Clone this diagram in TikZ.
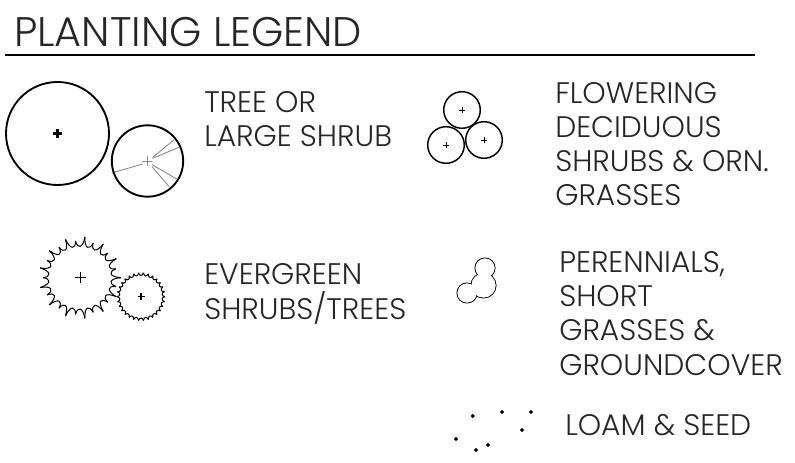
\documentclass[tikz,border=0pt]{standalone}
\usepackage{fontspec}
\setmainfont{Poppins Light}
\tikzset{
 x=0.75pt,y=-0.75pt,
 heavy/.style={draw=black,line width=1.4pt},
 thin line/.style={draw=black,line width=0.75pt},
 gray line/.style={draw=black!45,line width=0.7pt},
 label text/.style={anchor=base west,inner sep=0pt,align=left,font=\fontsize{22.3}{25.7}\selectfont,text=black!85},
}
\newcommand{\plusmark}[4]{\draw[#4] (#1-#3,#2) -- (#1+#3,#2) (#1,#2-#3) -- (#1,#2+#3);}
\newcommand{\scallop}[6]{% cx cy count tipA tipB base
 \foreach \i in {1,...,#3}{
  \pgfmathsetmacro\aa{(\i-1)*360/#3}
  \pgfmathsetmacro\ab{\i*360/#3}
  \pgfmathsetmacro\ra{mod(\i,2)==0 ? #5 : #4}
  \pgfmathsetmacro\rb{mod(\i,2)==0 ? #4 : #5}
  \pgfmathsetmacro\ca{\aa+0.12*360/#3}
  \pgfmathsetmacro\cb{\ab-0.12*360/#3}
  \draw[thin line,line join=round] ([shift={(#1,#2)}]\aa:\ra) .. controls ([shift={(#1,#2)}]\ca:#6) and ([shift={(#1,#2)}]\cb:#6) .. ([shift={(#1,#2)}]\ab:\rb);
 }}
\begin{document}
\begin{tikzpicture}
\useasboundingbox (0,0) rectangle (795,463);
% title
\node[label text,font=\fontsize{31}{32}\selectfont] (title) at (14,46.5) {PLANTING LEGEND};
\coordinate (ruleL) at (5,55); \coordinate (ruleR) at (755,55);
\draw[line width=0.8pt] (ruleL) -- (ruleR);
% tree
\draw[heavy] (57.5,133.5) circle (51.5);
\plusmark{57.5}{133.5}{4.5}{line width=1.6pt}
\foreach \xa/\ya/\xb/\yb in {152.7/157.3/174/140,152.7/158.3/179/147.3,152/164.7/176.7/179,152/166.7/169.3/186.7,142.7/164/111.7/173}
 \draw[gray line] (\xa,\ya) -- (\xb,\yb);
\plusmark{147}{161}{5}{gray line}
\draw[heavy] (147.5,161) circle (35.7);
% evergreen
\scallop{80}{277.7}{26}{41}{37}{29}
\plusmark{80}{277.7}{5.5}{line width=0.7pt}
\scallop{141}{296.7}{30}{24}{24}{20.5}
\plusmark{141}{296.7}{3.5}{line width=0.8pt}
% flowering
\foreach \cx/\cy in {462/110,484/140,446/145}{
 \draw[line width=1.1pt] (\cx,\cy) circle (18.3);
 \plusmark{\cx}{\cy}{3}{line width=0.7pt}
}
% perennials
\foreach \cx/\cy/\r in {485/268/10,467/293/10,483.5/285.5/12.5}
 \draw[line width=0.8pt] (\cx,\cy) circle (\r);
\foreach \cx/\cy/\r in {485/268/9.6,467/293/9.6,483.5/285.5/12.1}
 \fill[white] (\cx,\cy) circle (\r);
% loam
\foreach \cx/\cy in {472.7/416,502/412,531/412,522/430,456/439,476/450,488/445}
 \draw[line width=1pt] (\cx,\cy) circle (1.2);
% labels
\node[label text] (tree) at (204,147) {TREE OR\\LARGE SHRUB};
\node[label text] (flower) at (555,206) {FLOWERING\\DECIDUOUS\\SHRUBS \& ORN.\\GRASSES};
\node[label text] (evergreen) at (204,319) {EVERGREEN\\SHRUBS/TREES};
\node[label text] (peren) at (559,375) {PERENNIALS,\\SHORT\\GRASSES \&\\GROUNDCOVER};
\node[label text] (loam) at (565,435) {LOAM \& SEED};
\end{tikzpicture}
\end{document}
